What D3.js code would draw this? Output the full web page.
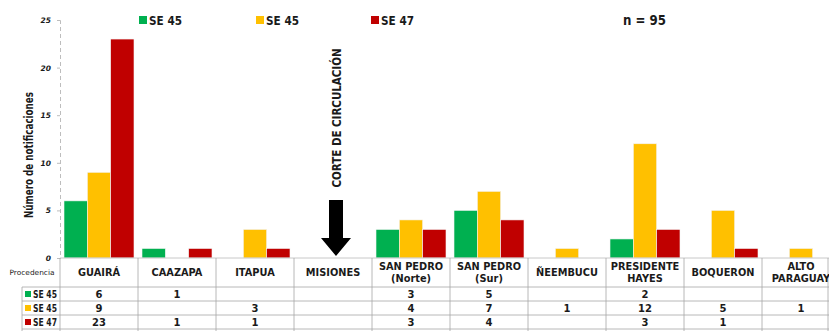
<!DOCTYPE html>
<html>
<head>
<meta charset="utf-8">
<script src="https://cdn.jsdelivr.net/npm/d3@7"></script>
<style>
  html, body { margin: 0; padding: 0; background: #fff; }
  svg { display: block; }
  text { font-family: "DejaVu Sans", sans-serif; fill: #1a1a1a; }
</style>
</head>
<body>
<svg id="chart" width="829" height="331"></svg>
<script>
// Notifications by department of origin
const categories = ["GUAIRÁ", "CAAZAPA", "ITAPUA", "MISIONES", "SAN PEDRO (Norte)", "SAN PEDRO (Sur)", "ÑEEMBUCU", "PRESIDENTE HAYES", "BOQUERON", "ALTO PARAGUAY"];
const headerLines = [["GUAIRÁ"], ["CAAZAPA"], ["ITAPUA"], ["MISIONES"], ["SAN PEDRO", "(Norte)"], ["SAN PEDRO", "(Sur)"], ["ÑEEMBUCU"], ["PRESIDENTE", "HAYES"], ["BOQUERON"], ["ALTO", "PARAGUAY"]];
const seriesNames = ["SE 45", "SE 45", "SE 47"];
const seriesKeys = ["s1", "s2", "s3"];
const seriesColors = ["#00B050", "#FFC000", "#C00000"];
const se45a = [6, 1, null, null, 3, 5, null, 2, null, null];
const se45b = [9, null, 3, null, 4, 7, 1, 12, 5, 1];
const se47 = [23, 1, 1, null, 3, 4, null, 3, 1, null];
const yTicks = [0, 5, 10, 15, 20, 25];
const totalLabel = "n = 95";
const cutLabel = "CORTE DE CIRCULACIÓN";
const cutCategory = "MISIONES";

const seriesValues = [se45a, se45b, se47];

const svg = d3.select("#chart");
const plotTop = 20, plotBottom = 258, left = 60, right = 840;

const x = d3.scaleBand().domain(categories).range([left, right]).padding(0);
const x1 = d3.scaleBand().domain(seriesKeys).range([4, x.bandwidth() - 4]).padding(0);
const y = d3.scaleLinear().domain([0, 25]).range([plotBottom, plotTop]);

// y axis: dashed line with small ticks
const yAxis = d3.axisLeft(y).tickValues(yTicks).tickSize(3).tickPadding(6);
const gy = svg.append("g").attr("transform", `translate(${left},0)`).call(yAxis);
gy.select(".domain").attr("stroke", "#bdbdbd").attr("stroke-dasharray", "4,3");
gy.selectAll(".tick line").attr("stroke", "#bdbdbd");
gy.selectAll(".tick text")
  .attr("font-size", 7.5).attr("font-style", "italic").attr("font-weight", "bold")
  .attr("fill", "#333").style("font-family", "'DejaVu Sans', sans-serif");

// y axis title
svg.append("text")
  .attr("transform", `translate(32.5,155) rotate(-90)`)
  .attr("text-anchor", "middle")
  .attr("font-size", 11.5).attr("font-weight", "bold")
  .attr("textLength", 126).attr("lengthAdjust", "spacingAndGlyphs")
  .text("Número de notificaciones");

// bars
const barData = [];
categories.forEach((c, i) => {
  seriesKeys.forEach((k, j) => {
    const v = seriesValues[j][i];
    if (v != null) barData.push({ c, k, j, v });
  });
});
svg.append("g").selectAll("rect").data(barData).join("rect")
  .attr("x", d => x(d.c) + x1(d.k))
  .attr("width", x1.bandwidth())
  .attr("y", d => y(d.v))
  .attr("height", d => y(0) - y(d.v))
  .attr("fill", d => seriesColors[d.j])
  .attr("stroke", "#f4f4f4").attr("stroke-width", 0.6);

// cut-off marker: rotated label and down arrow
const cx = x(cutCategory) + 42;
svg.append("text")
  .attr("transform", `translate(${cx + 5},118) rotate(-90)`)
  .attr("text-anchor", "middle")
  .attr("font-size", 12.5).attr("font-weight", "bold")
  .attr("textLength", 139).attr("lengthAdjust", "spacingAndGlyphs")
  .text(cutLabel);
svg.append("path")
  .attr("d", `M${cx - 7},200 L${cx + 7},200 L${cx + 7},238 L${cx + 15},238 L${cx},256 L${cx - 15},238 L${cx - 7},238 Z`)
  .attr("fill", "#000");

// legend
const legendX = [139, 256, 371];
seriesNames.forEach((name, j) => {
  svg.append("rect").attr("x", legendX[j]).attr("y", 16).attr("width", 8).attr("height", 8).attr("fill", seriesColors[j]);
  svg.append("text").attr("x", legendX[j] + 10).attr("y", 24.5)
    .attr("font-size", 13).attr("font-weight", "bold")
    .attr("textLength", 33).attr("lengthAdjust", "spacingAndGlyphs")
    .text(name);
});
svg.append("text").attr("x", 623).attr("y", 25)
  .attr("font-size", 14).attr("font-weight", "bold")
  .attr("textLength", 43).attr("lengthAdjust", "spacingAndGlyphs")
  .text(totalLabel);

// data table
const gridColor = "#a6a6a6";
const rowY = [258, 287, 301, 315, 329];
const keyLeft = 22;
const t = svg.append("g");
// horizontal rules
t.append("line").attr("x1", left).attr("x2", right).attr("y1", rowY[0]).attr("y2", rowY[0]).attr("stroke", "#c8c8c8");
rowY.slice(1).forEach(yy => {
  t.append("line").attr("x1", keyLeft).attr("x2", right).attr("y1", yy).attr("y2", yy).attr("stroke", gridColor).attr("stroke-width", 0.8);
});
// vertical rules
t.append("line").attr("x1", keyLeft).attr("x2", keyLeft).attr("y1", rowY[1]).attr("y2", 331).attr("stroke", gridColor).attr("stroke-width", 0.8);
categories.forEach(c => {
  t.append("line").attr("x1", x(c)).attr("x2", x(c)).attr("y1", rowY[0]).attr("y2", 331).attr("stroke", gridColor).attr("stroke-width", 0.8);
});
t.append("line").attr("x1", 828).attr("x2", 828).attr("y1", rowY[0]).attr("y2", 331).attr("stroke", gridColor).attr("stroke-width", 0.8);

t.append("text").attr("x", 32).attr("y", 274.5).attr("text-anchor", "middle")
  .attr("font-size", 7.2).attr("fill", "#333")
  .attr("textLength", 45).attr("lengthAdjust", "spacingAndGlyphs")
  .text("Procedencia");

// column headers
headerLines.forEach((lines, i) => {
  const c = categories[i];
  const mx = x(c) + x.bandwidth() / 2;
  const y0 = lines.length === 1 ? 276 : 269.5;
  lines.forEach((ln, k) => {
    t.append("text").attr("x", mx).attr("y", y0 + k * 12.5).attr("text-anchor", "middle")
      .attr("font-size", 9.8).attr("font-weight", "bold").text(ln);
  });
});

// rows: key + values
seriesNames.forEach((name, j) => {
  const top = rowY[j + 1];
  t.append("rect").attr("x", 25).attr("y", top + 4).attr("width", 6).attr("height", 6).attr("fill", seriesColors[j]);
  t.append("text").attr("x", 33).attr("y", top + 11).attr("font-size", 10).attr("font-weight", "bold")
    .attr("textLength", 24).attr("lengthAdjust", "spacingAndGlyphs").text(name);
  categories.forEach((c, i) => {
    const v = seriesValues[j][i];
    if (v == null) return;
    t.append("text").attr("x", x(c) + x.bandwidth() / 2).attr("y", top + 11).attr("text-anchor", "middle")
      .attr("font-size", 10).attr("font-weight", "bold").text(v);
  });
});
</script>
</body>
</html>
